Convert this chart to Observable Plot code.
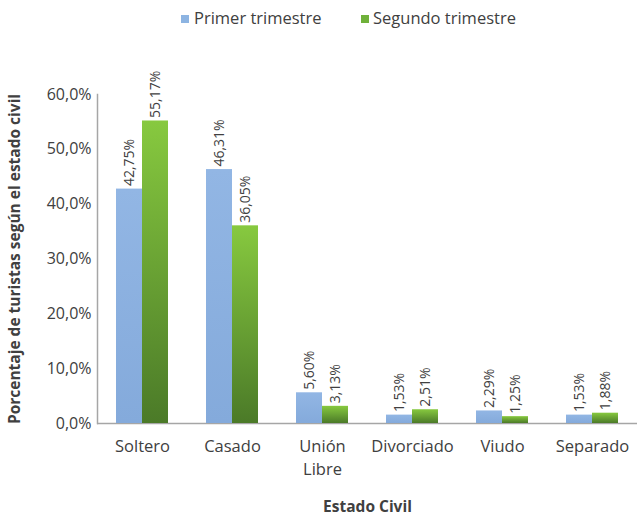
<!DOCTYPE html>
<html><head><meta charset="utf-8">
<script src="https://cdn.jsdelivr.net/npm/d3@7"></script>
<script src="https://cdn.jsdelivr.net/npm/@observablehq/plot@0.6"></script>
<style>
body{margin:0;background:#fff;font-family:"Open Sans",sans-serif;}
#legend{position:relative;height:40px;width:641px;font-size:16.5px;color:#404040;}
#legend .sw{position:absolute;width:8px;height:8px;top:15px;}
#legend .lb{position:absolute;top:8px;line-height:20px;white-space:nowrap;}
g[aria-label="fx-axis tick label"]{font-size:16.5px;}
g[aria-label="y-axis tick label"]{font-size:16px;}
g[aria-label="fx-axis label"], g[aria-label="y-axis label"]{font-size:15.5px;font-weight:bold;}
</style></head><body>
<div id="legend"></div>
<div id="chart"></div>
<script>
const categories = ["Soltero","Casado","Unión Libre","Divorciado","Viudo","Separado"];
const series = ["Primer trimestre","Segundo trimestre"];
const primer = [42.75,46.31,5.60,1.53,2.29,1.53];
const segundo = [55.17,36.05,3.13,2.51,1.25,1.88];
const yTicks = [0,10,20,30,40,50,60];
const seriesColors = ["#8db4e2","#6fb13a"];

const rows = [];
categories.forEach((c,i)=>{
  rows.push({cat:c, series:series[0], value:primer[i]});
  rows.push({cat:c, series:series[1], value:segundo[i]});
});
const fmt = v => v.toFixed(2).replace(".", ",") + "%";

// legend
const lg = document.getElementById("legend");
const legPos = [[181,194],[361,373]];
series.forEach((s,i)=>{
  const sw = document.createElement("div"); sw.className="sw";
  sw.style.left = legPos[i][0]+"px"; sw.style.background = seriesColors[i];
  const lb = document.createElement("div"); lb.className="lb";
  lb.style.left = legPos[i][1]+"px"; lb.textContent = s;
  lg.appendChild(sw); lg.appendChild(lb);
});

const chart = Plot.plot({
  width:641, height:475,
  marginTop:54, marginLeft:97, marginRight:4, marginBottom:92,
  style:{fontFamily:"'Open Sans',sans-serif", fontSize:"14px", color:"#404040", background:"#fff"},
  fx:{domain:categories, padding:0},
  x:{domain:series, paddingInner:0, paddingOuter:0.667, axis:null},
  y:{domain:[0,60]},
  marks:[
    Plot.ruleY([0], {stroke:"#a6a6a6", strokeWidth:1.5}),
    Plot.frame({anchor:"left", facetAnchor:"left", stroke:"#a6a6a6", strokeWidth:1.5}),
    Plot.barY(rows.filter(d=>d.series===series[0]), {fx:"cat", x:"series", y:"value", fill:"url(#gBlue)"}),
    Plot.barY(rows.filter(d=>d.series===series[1]), {fx:"cat", x:"series", y:"value", fill:"url(#gGreen)"}),
    Plot.text(rows, {fx:"cat", x:"series", y:"value", text:d=>fmt(d.value), rotate:-90, textAnchor:"start", lineAnchor:"middle", dy:-3, fill:"#404040", fontSize:14, style:"letter-spacing:0.7px"}),
    Plot.axisY({ticks:yTicks, tickSize:0, tickPadding:6, tickFormat:d=>d.toFixed(1).replace(".",",")+"%", label:"Porcentaje de turistas según el estado civil", labelArrow:false, labelAnchor:"center", labelOffset:89, fill:"#404040"}),
    Plot.axisFx({anchor:"bottom", tickSize:0, tickPadding:13, lineHeight:1.35, tickFormat:d=>d.replace(" ","\n"), label:"Estado Civil", labelArrow:false, labelAnchor:"center", labelOffset:88, fill:"#404040"})
  ]
});
const defs = d3.select(chart).insert("defs", ":first-child");
const gb = defs.append("linearGradient").attr("id","gBlue").attr("x1",0).attr("y1",0).attr("x2",0).attr("y2",1);
gb.append("stop").attr("offset","0%").attr("stop-color","#92b6e4");
gb.append("stop").attr("offset","100%").attr("stop-color","#84aadb");
const gg = defs.append("linearGradient").attr("id","gGreen").attr("x1",0).attr("y1",0).attr("x2",0).attr("y2",1);
gg.append("stop").attr("offset","0%").attr("stop-color","#87c93f");
gg.append("stop").attr("offset","100%").attr("stop-color","#4b7a28");
document.getElementById("chart").appendChild(chart);
</script>
</body></html>
